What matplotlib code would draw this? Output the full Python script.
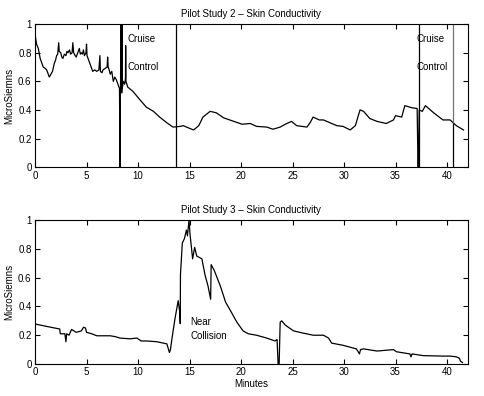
import matplotlib
matplotlib.use("Agg")
import matplotlib.pyplot as plt

plt.rcParams['font.family'] = ['Liberation Sans', 'DejaVu Sans']

# Pilot Study 2 - skin conductivity (minutes, microsiemens)
t2 = [0, 0.15, 0.32, 0.5, 0.8, 1.0, 1.13, 1.39, 1.55, 1.7, 1.85, 2.0, 2.1, 2.2, 2.3, 2.35,
      2.5, 2.6, 2.7, 2.85, 3.0, 3.1, 3.2, 3.35, 3.45, 3.6, 3.67, 3.75, 3.9, 4.0, 4.15,
      4.3, 4.4, 4.5, 4.6, 4.7, 4.8, 4.95, 5.0, 5.05, 5.15, 5.3, 5.45, 5.6, 5.8, 6.0,
      6.2, 6.3, 6.35, 6.5, 6.6, 6.8, 7.0, 7.05, 7.1, 7.2, 7.3, 7.45, 7.6, 7.75, 7.9,
      8.05, 8.2, 8.25, 8.27, 8.3, 8.33, 8.36, 8.39, 8.42, 8.45, 8.48, 8.55, 8.7, 8.78,
      8.8, 8.83, 9.0, 9.5, 10.2, 10.8, 11.5, 12.1, 12.8, 13.4, 14.1, 14.4, 14.7, 15.4,
      15.9, 16.3, 17.0, 17.6, 18.3, 19.3, 20.1, 20.9, 21.5, 22.5, 23.1, 23.8, 24.3,
      24.9, 25.4, 26.4, 26.7, 27.0, 27.6, 28.0, 29.3, 29.9, 30.6, 31.1, 31.55, 31.9,
      32.5, 33.2, 34.1, 34.8, 35.0, 35.6, 35.9, 36.6, 37.1, 37.18, 37.22, 37.3, 37.6,
      37.9, 38.7, 39.6, 40.3, 40.9, 41.6]
v2 = [0.93, 0.86, 0.83, 0.76, 0.70, 0.69, 0.68, 0.63, 0.65, 0.67, 0.72, 0.75, 0.78, 0.79, 0.87, 0.81,
      0.80, 0.77, 0.76, 0.79, 0.78, 0.81, 0.80, 0.82, 0.79, 0.80, 0.87, 0.80, 0.78, 0.77, 0.80,
      0.83, 0.79, 0.80, 0.79, 0.82, 0.78, 0.80, 0.86, 0.78, 0.76, 0.73, 0.70, 0.67, 0.68, 0.67,
      0.68, 0.78, 0.67, 0.66, 0.68, 0.69, 0.70, 0.77, 0.70, 0.68, 0.65, 0.67, 0.60, 0.63, 0.61,
      0.58, 0.55, 0.0, 0.55, 0.52, 1.0, 0.52, 1.0, 0.52, 1.0, 0.55, 0.60, 0.58, 0.62,
      0.85, 0.60, 0.56, 0.53, 0.47, 0.42, 0.39, 0.35, 0.31, 0.28, 0.285, 0.29, 0.28, 0.26,
      0.29, 0.35, 0.39, 0.38, 0.345, 0.32, 0.30, 0.305, 0.285, 0.28, 0.265, 0.28, 0.30,
      0.32, 0.29, 0.28, 0.31, 0.35, 0.33, 0.33, 0.29, 0.285, 0.26, 0.29, 0.40, 0.39,
      0.34, 0.32, 0.305, 0.33, 0.36, 0.35, 0.43, 0.415, 0.41, 0.0, 0.0, 0.40, 0.39,
      0.43, 0.38, 0.33, 0.33, 0.29, 0.26]

# Pilot Study 3 - skin conductivity
t3 = [0, 1.2, 2.4, 2.45, 2.9, 3.0, 3.07, 3.3, 3.55, 4.0, 4.5, 4.7, 4.9, 5.0, 5.5, 6.0,
      7.3, 7.8, 8.25, 9.2, 9.9, 10.3, 10.8, 11.8, 12.8, 13.05, 13.15, 13.3, 13.6, 13.9,
      14.05, 14.1, 14.12, 14.3, 14.5, 14.7, 14.8, 14.95, 15.05, 15.2, 15.3, 15.5, 15.7,
      16.2, 16.5, 16.8, 17.05, 17.1, 17.4, 18.0, 18.5, 18.9, 19.6, 20.2, 20.7, 21.5,
      22.5, 23.3, 23.5, 23.6, 23.7, 23.8, 23.95, 24.3, 25.1, 26.0, 27.0, 28.0, 28.5,
      28.8, 29.9, 31.2, 31.5, 31.6, 31.9, 33.2, 34.8, 35.1, 36.4, 36.5, 36.6, 37.7,
      39.6, 40.3, 40.9, 41.2, 41.3, 41.5]
v3 = [0.278, 0.26, 0.243, 0.21, 0.21, 0.155, 0.21, 0.20, 0.24, 0.22, 0.23, 0.255, 0.25, 0.22, 0.21, 0.196,
      0.196, 0.19, 0.18, 0.175, 0.18, 0.16, 0.16, 0.155, 0.14, 0.08, 0.10, 0.18, 0.32, 0.44,
      0.36, 0.28, 0.62, 0.84, 0.87, 0.93, 0.89, 1.0, 0.90, 0.80, 0.73, 0.81, 0.75,
      0.73, 0.62, 0.54, 0.45, 0.69, 0.65, 0.54, 0.43, 0.38, 0.29, 0.23, 0.21, 0.20,
      0.18, 0.16, 0.17, 0.0, 0.0, 0.29, 0.30, 0.27, 0.23, 0.215, 0.20, 0.20, 0.18,
      0.145, 0.13, 0.105, 0.07, 0.10, 0.105, 0.09, 0.10, 0.085, 0.07, 0.05, 0.07, 0.058,
      0.055, 0.055, 0.05, 0.04, 0.02, 0.01]

# event marker lines (minutes)
events2 = [13.65, 37.25, 40.6]
labels2 = [("Cruise", 9.0, 0.895), ("Control", 9.0, 0.70),
           ("Cruise", 37.0, 0.895), ("Control", 37.0, 0.70)]
labels3 = [("Near", 15.05, 0.29), ("Collision", 15.05, 0.195)]

yticks = [0, 0.2, 0.4, 0.6, 0.8, 1.0]
yticklabels = ["0", "0.2", "0.4", "0.6", "0.8", "1"]
xticks = [0, 5, 10, 15, 20, 25, 30, 35, 40]

fig = plt.figure(figsize=(4.85, 3.96), dpi=100)
ax1 = fig.add_axes([0.0722, 0.578, 0.892, 0.361])
ax2 = fig.add_axes([0.0722, 0.0808, 0.892, 0.3636])

fs = 7
for ax in (ax1, ax2):
    ax.set_xlim(0, 42)
    ax.set_ylim(0, 1)
    ax.set_yticks(yticks)
    ax.set_yticklabels(yticklabels)
    ax.set_xticks(xticks)
    ax.tick_params(direction='in', top=True, right=True, length=3.5, width=0.8,
                   labelsize=fs, pad=2.5)
    for s in ax.spines.values():
        s.set_linewidth(0.8)
    ax.set_ylabel("MicroSiemns", fontsize=fs, labelpad=3)

ax1.plot(t2, v2, color='black', lw=0.9)
ax1.vlines([events2[0], events2[1]], 0, 1, color='black', lw=0.9)
ax1.vlines(events2[2], 0.31, 1, color='0.45', lw=0.9)
ax1.vlines(events2[2], 0, 0.31, color='black', lw=0.9)
for txt, x, y in labels2:
    ax1.text(x, y, txt, fontsize=fs, va='center', ha='left')
ax1.set_title("Pilot Study 2 \u2013 Skin Conductivity", fontsize=fs, pad=5)

ax2.plot(t3, v3, color='black', lw=0.9)
for txt, x, y in labels3:
    ax2.text(x, y, txt, fontsize=fs, va='center', ha='left')
ax2.set_title("Pilot Study 3 \u2013 Skin Conductivity", fontsize=fs, pad=5)
ax2.set_xlabel("Minutes", fontsize=fs, labelpad=1)

fig.savefig("out.png", dpi=100)
